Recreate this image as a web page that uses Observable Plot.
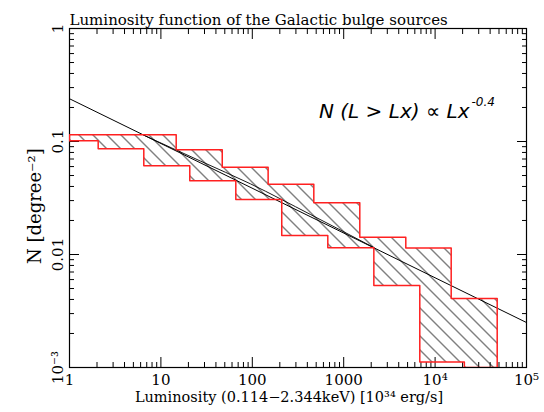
<!DOCTYPE html>
<html><head><meta charset="utf-8">
<script src="https://cdn.jsdelivr.net/npm/d3@7"></script>
<script src="https://cdn.jsdelivr.net/npm/@observablehq/plot@0.6"></script>
<style>body{margin:0;background:#fff} svg{display:block}</style>
</head><body><div id="chart"></div>
<script>
// Histogram band: upper and lower step boundaries (luminosity in 10^34 erg/s, N in degree^-2)
const upperEdges = [1, 14.7, 46.9, 149, 471, 1500, 4780, 15000, 47800];
const upperValues = [0.1146, 0.0845, 0.0593, 0.0418, 0.0287, 0.0142, 0.0114, 0.00408];
const lowerEdges = [1, 2.06, 6.5, 20.7, 66, 210, 670, 2137, 6800, 20900, 47800];
const lowerValues = [0.1014, 0.0862, 0.0610, 0.0449, 0.0307, 0.0147, 0.01146, 0.00532, 0.00112, 0.001];
// Power-law fit line endpoints
const fitL = [1, 100000];
const fitN = [0.239, 0.0025];
// Second (curved) model line
const curveL = [6.45, 27, 95.5, 433, 2130];
const curveN = [0.114, 0.0672, 0.0422, 0.0226, 0.01153];
// Axis domains and tick labels
const xDomain = [1, 1e5];
const yDomain = [0.001, 1];
const xTicks = [1, 10, 100, 1000, 1e4, 1e5];
const xTickLabels = ["1", "10", "100", "1000", "10⁴", "10⁵"];
const yTicks = [1, 0.1, 0.01, 0.001];
const yTickLabels = ["1", "0.1", "0.01", "10⁻³"];
const titleText = "Luminosity function of the Galactic bulge sources";
const xLabel = "Luminosity (0.114−2.344keV) [10³⁴ erg/s]";
const yLabel = "N [degree⁻²]";
const annotMain = "N (L > Lx) ∝ Lx";
const annotSup = "-0.4";

const poly = [];
upperValues.forEach((v, i) => { poly.push({L: upperEdges[i], N: v}); poly.push({L: upperEdges[i + 1], N: v}); });
for (let i = lowerValues.length - 1; i >= 0; i--) { poly.push({L: lowerEdges[i + 1], N: lowerValues[i]}); poly.push({L: lowerEdges[i], N: lowerValues[i]}); }
poly.push(poly[0]);
const fit = fitL.map((L, i) => ({L, N: fitN[i]}));
const curve = curveL.map((L, i) => ({L, N: curveN[i]}));

const minorX = []; for (let e = 0; e < 5; e++) for (let k = 2; k <= 9; k++) minorX.push(k * 10 ** e);
const minorY = []; for (let e = -3; e < 0; e++) for (let k = 2; k <= 9; k++) minorY.push(k * 10 ** e);
const yMid = Math.sqrt(yDomain[0] * yDomain[1]);
const serif = "DejaVu Serif";
const blank = () => "";

const svg = Plot.plot({
  width: 544, height: 412,
  marginLeft: 69, marginRight: 18, marginTop: 28, marginBottom: 45,
  style: {fontFamily: serif, background: "#fff"},
  x: {type: "log", domain: xDomain, axis: null},
  y: {type: "log", domain: yDomain, axis: null},
  marks: [
    Plot.line(poly, {x: "L", y: "N", fill: "url(#hatch)", stroke: "none", clip: true}),
    Plot.line(fit, {x: "L", y: "N", stroke: "#000", strokeWidth: 1, clip: true}),
    Plot.line(curve, {x: "L", y: "N", stroke: "#000", strokeWidth: 0.9, curve: "monotone-x", clip: true}),
    Plot.frame({stroke: "#000", strokeWidth: 1.2}),
    Plot.axisX({ticks: xTicks, anchor: "bottom", tickSize: -10, tickFormat: blank, label: null}),
    Plot.axisX({ticks: minorX, anchor: "bottom", tickSize: -5, tickFormat: blank, label: null}),
    Plot.axisX({ticks: xTicks, anchor: "top", tickSize: -10, tickFormat: blank, label: null}),
    Plot.axisX({ticks: minorX, anchor: "top", tickSize: -5, tickFormat: blank, label: null}),
    Plot.axisY({ticks: yTicks, anchor: "left", tickSize: -10, tickFormat: blank, label: null}),
    Plot.axisY({ticks: minorY, anchor: "left", tickSize: -5, tickFormat: blank, label: null}),
    Plot.axisY({ticks: yTicks, anchor: "right", tickSize: -10, tickFormat: blank, label: null}),
    Plot.axisY({ticks: minorY, anchor: "right", tickSize: -5, tickFormat: blank, label: null}),
    Plot.line(poly, {x: "L", y: "N", stroke: "#ff2020", strokeWidth: 1.5, clip: true}),
    Plot.text(xTicks, {x: d => d, frameAnchor: "bottom", dy: 17, text: d => xTickLabels[xTicks.indexOf(d)], fontSize: 15, fill: "#000"}),
    Plot.text(yTicks, {y: d => d, frameAnchor: "left", dx: -7, rotate: -90, textAnchor: "middle", lineAnchor: "bottom", text: d => yTickLabels[yTicks.indexOf(d)], fontSize: 15, fill: "#000"}),
    Plot.text([xLabel], {frameAnchor: "bottom", dx: -9, dy: 34, textAnchor: "middle", text: d => d, fontSize: 14.5, fill: "#000"}),
    Plot.text([yLabel], {y: () => yMid, frameAnchor: "left", dx: -34, dy: 66, rotate: -90, textAnchor: "start", text: d => d, fontSize: 18, fill: "#000"}),
    Plot.text([titleText], {frameAnchor: "top-left", dy: -14, textAnchor: "start", text: d => d, fontSize: 15, fill: "#000"}),
    Plot.text([annotMain], {frameAnchor: "top-right", dx: -57, dy: 75, textAnchor: "end", text: d => d, fontSize: 20, fontStyle: "oblique", fontFamily: "DejaVu Sans", fill: "#000"}),
    Plot.text([annotSup], {frameAnchor: "top-right", dx: -55, dy: 69, textAnchor: "start", text: d => d, fontSize: 12, fontStyle: "oblique", fontFamily: "DejaVu Sans", fill: "#000"})
  ]
});

const defs = d3.select(svg).insert("defs", ":first-child");
defs.append("pattern").attr("id", "hatch").attr("patternUnits", "userSpaceOnUse")
  .attr("width", 14).attr("height", 14)
  .append("path").attr("d", "M0,0L14,14M-3,11L3,17M11,-3L17,3")
  .attr("stroke", "#000").attr("stroke-width", 1).attr("shape-rendering", "crispEdges").attr("fill", "none");
document.getElementById("chart").appendChild(svg);
</script>
</body></html>
